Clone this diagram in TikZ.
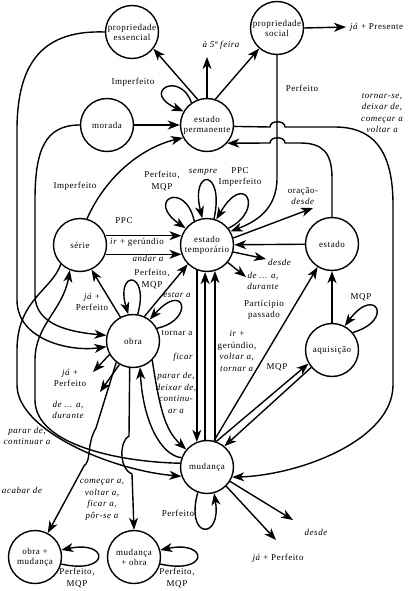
\documentclass[tikz,border=0pt]{standalone}
\usepackage{fontspec}
\setmainfont[LetterSpace=6]{Liberation Serif}
\usetikzlibrary{arrows.meta}
\begin{document}
\begin{tikzpicture}[x=1pt,y=-1pt,
  st/.style={circle,draw,line width=1.4pt,minimum size=53pt,inner sep=0pt,align=center,font=\fontsize{9}{10}\selectfont},
  lab/.style={align=center,inner sep=0pt,font=\fontsize{9}{11.5}\selectfont},
  il/.style={align=center,inner sep=0pt,font=\fontsize{9}{11.5}\selectfont\itshape},
  arr/.style={line width=1.4pt,-{Stealth[length=12pt,width=9pt,inset=3.5pt]}},
]
\useasboundingbox (0,0) rectangle (416,591);
% states
\node[st] (pe) at (132,32) {propriedade\\essencial};
\node[st] (ps) at (277,28) {propriedade\\social};
\node[st] (mor) at (107,125) {morada};
\node[st] (ep) at (207,125) {estado\\permanente};
\node[st] (ser) at (80,245) {série};
\node[st] (et) at (207,245) {estado\\temporário};
\node[st] (est) at (332,244) {estado};
\node[st] (obra) at (133,341) {obra};
\node[st] (aq) at (332,350) {aquisição};
\node[st] (mud) at (207,467) {mudança};
\node[st] (om) at (35,557) {obra +\\mudança};
\node[st] (mo) at (134,557) {mudança\\+ obra};
% free ends
\coordinate (q5) at (207,57);
\coordinate (jp) at (346,27);
\coordinate (od) at (313,208);
\coordinate (d1) at (266,259);
\coordinate (d2) at (246,277);
\coordinate (jp2) at (93,372);
\coordinate (d3) at (100,392);
\coordinate (d4) at (293,520);
\coordinate (jp3) at (276,540);
% estado permanente
\draw[arr] (ep.110) -- (pe.-38);
\draw[arr] (ep.north) -- (q5);
\draw[arr] (ep.72) -- (ps.229);
\draw[arr] (ep.125) .. controls (180,70) and (140,92) .. (ep.150);
\draw[arr] (mor) -- (ep);
\draw[arr] (ser.75) .. controls (105,178) and (140,148) .. (ep.208);
\draw[arr] (est.north) -- (332,178) .. controls (332,152) and (322,143) .. (300,143) -- (285,143) .. controls (285,136) and (270,136) .. (270,143) -- (ep.-42);
\draw[arr] (ep.-3) -- (270,127) .. controls (270,120) and (285,120) .. (285,127) -- (335,127) .. controls (380,127) and (393,160) .. (393,205) -- (393,385) .. controls (393,440) and (300,475) .. (mud.-22);
% propriedade social
\draw[arr] (ps.east) -- (jp);
\draw[arr] (ps.south) -- (277,178) .. controls (277,210) and (255,222) .. (et.30);
% estado temporario
\draw[arr] (et.118) .. controls (185,180) and (145,200) .. (et.142);
\draw[arr] (et.75) .. controls (225,168) and (190,168) .. (et.100);
\draw[arr] (et.38) .. controls (265,210) and (245,170) .. (et.70);
\draw[arr] (ser.20) -- (et.160);
\draw[arr] (ser.-20) -- (et.-160);
\draw[arr] (et.15) -- (od);
\draw[arr] (est) -- (et);
\draw[arr] (et.-15) -- (d1);
\draw[arr] (et.-40) -- (d2);
% obra
\draw[arr] (obra.65) -- (et.-135);
\draw[arr] (obra.80) .. controls (150,270) and (115,270) .. (obra.100);
\draw[arr] (obra.28) .. controls (195,320) and (185,280) .. (obra.52);
\draw[arr] (obra.118) -- (ser.-65);
\draw[arr] (obra.-150) -- (jp2);
\draw[arr] (obra.-120) -- (d3);
\draw[arr] (obra.-97) -- (129,436) .. controls (120,440) and (118,468) .. (132,474) -- (mo.north);
\draw[arr] (obra.-45) .. controls (160,410) and (165,430) .. (mud.140);
\draw[arr] (mud.160) .. controls (160,455) and (143,420) .. (obra.-75);
\draw[arr] (obra.-128) -- (96,428) .. controls (86,445) and (92,460) .. (84,466) -- (om.62);
% left curves
\draw[arr] (pe.west) .. controls (45,30) and (17,60) .. (17,130) -- (17,300) .. controls (17,340) and (70,352) .. (obra.-168);
\draw[arr] (mor.west) .. controls (45,125) and (35,150) .. (35,200) -- (35,295) .. controls (35,325) and (70,332) .. (obra.168);
\draw[arr] (ser.-135) .. controls (52,290) and (17,300) .. (17,350) -- (17,385) .. controls (17,430) and (110,470) .. (mud.-160);
\draw[arr] (mud.172) .. controls (120,462) and (35,445) .. (35,400) -- (35,360) .. controls (35,325) and (63,310) .. (ser.-112);
% aquisicao
\draw[arr] (aq.north) -- (est.south);
\draw[arr] (aq.40) .. controls (395,320) and (375,285) .. (aq.62);
\draw[arr] (mud.70) -- (aq.-150);
\draw[arr] (aq.-140) -- (mud.50);
\draw[arr] (mud.75) -- (est.-122);
% vertical lines
\draw[arr] (et.-112) -- (mud.112);
\draw[arr] (mud.94) -- (et.-94);
\draw[arr] (mud.73) -- (et.-73);
% mudanca
\draw[arr] (mud.-110) .. controls (185,540) and (222,540) .. (mud.-75);
\draw[arr] (mud.-32) -- (d4);
\draw[arr] (mud.-45) -- (jp3);
% bottom loops
\draw[arr] (om.-15) .. controls (110,575) and (110,540) .. (om.15);
\draw[arr] (mo.-15) .. controls (209,575) and (209,540) .. (mo.15);
% labels
\node[il] (l1) at (221,45) {à 5ª feira};
\node[lab,anchor=west] (l2) at (350,27) {\textit{já} + Presente};
\node[lab] (l3) at (133,82) {Imperfeito};
\node[lab] (l4) at (302,88) {Perfeito};
\node[il] (l5) at (382,113) {tornar-se,\\deixar de,\\começar a\\voltar a};
\node[lab] (l6) at (75,186) {Imperfeito};
\node[lab] (l7) at (162,181) {Perfeito,\\MQP};
\node[il] (l8) at (203,172) {sempre};
\node[lab] (l9) at (240,177) {PPC\\Imperfeito};
\node[lab] (l10) at (303,196) {oração-\\\textit{desde}};
\node[lab] (l11) at (124,221) {PPC};
\node[lab] (l12) at (137,242) {\textit{ir} + gerúndio};
\node[il] (l13) at (148,258) {andar a};
\node[il,anchor=west] (l14) at (268,262) {desde};
\node[il] (l15) at (263,281) {de ... a,\\durante};
\node[lab] (l16) at (152,279) {Perfeito,\\MQP};
\node[il] (l17) at (177,295) {estar a};
\node[lab] (l18) at (177,333) {tornar a};
\node[lab] (l19) at (92,302) {\textit{já} +\\Perfeito};
\node[lab] (l20) at (264,310) {Partícipio\\passado};
\node[lab] (l21) at (361,297) {MQP};
\node[il] (l22) at (183,357) {ficar};
\node[il] (l23) at (176,393) {parar de,\\deixar de,\\continu-\\ar a};
\node[lab] (l24) at (237,351) {\textit{ir} +\\gerúndio,\\\textit{voltar a,}\\\textit{tornar a}};
\node[lab] (l25) at (277,367) {MQP};
\node[lab] (l26) at (70,378) {\textit{já} +\\Perfeito};
\node[il] (l27) at (68,410) {de ... a,\\durante};
\node[il] (l28) at (27,436) {parar de,\\continuar a};
\node[il] (l29) at (22,490) {acabar de};
\node[il] (l30) at (102,500) {começar a,\\voltar a,\\ficar a,\\pôr-se a};
\node[lab] (l31) at (178,513) {Perfeito};
\node[il] (l32) at (316,532) {desde};
\node[lab] (l33) at (278,558) {\textit{já} + Perfeito};
\node[lab] (l34) at (77,578) {Perfeito,\\MQP};
\node[lab] (l35) at (177,578) {Perfeito,\\MQP};
\end{tikzpicture}
\end{document}
